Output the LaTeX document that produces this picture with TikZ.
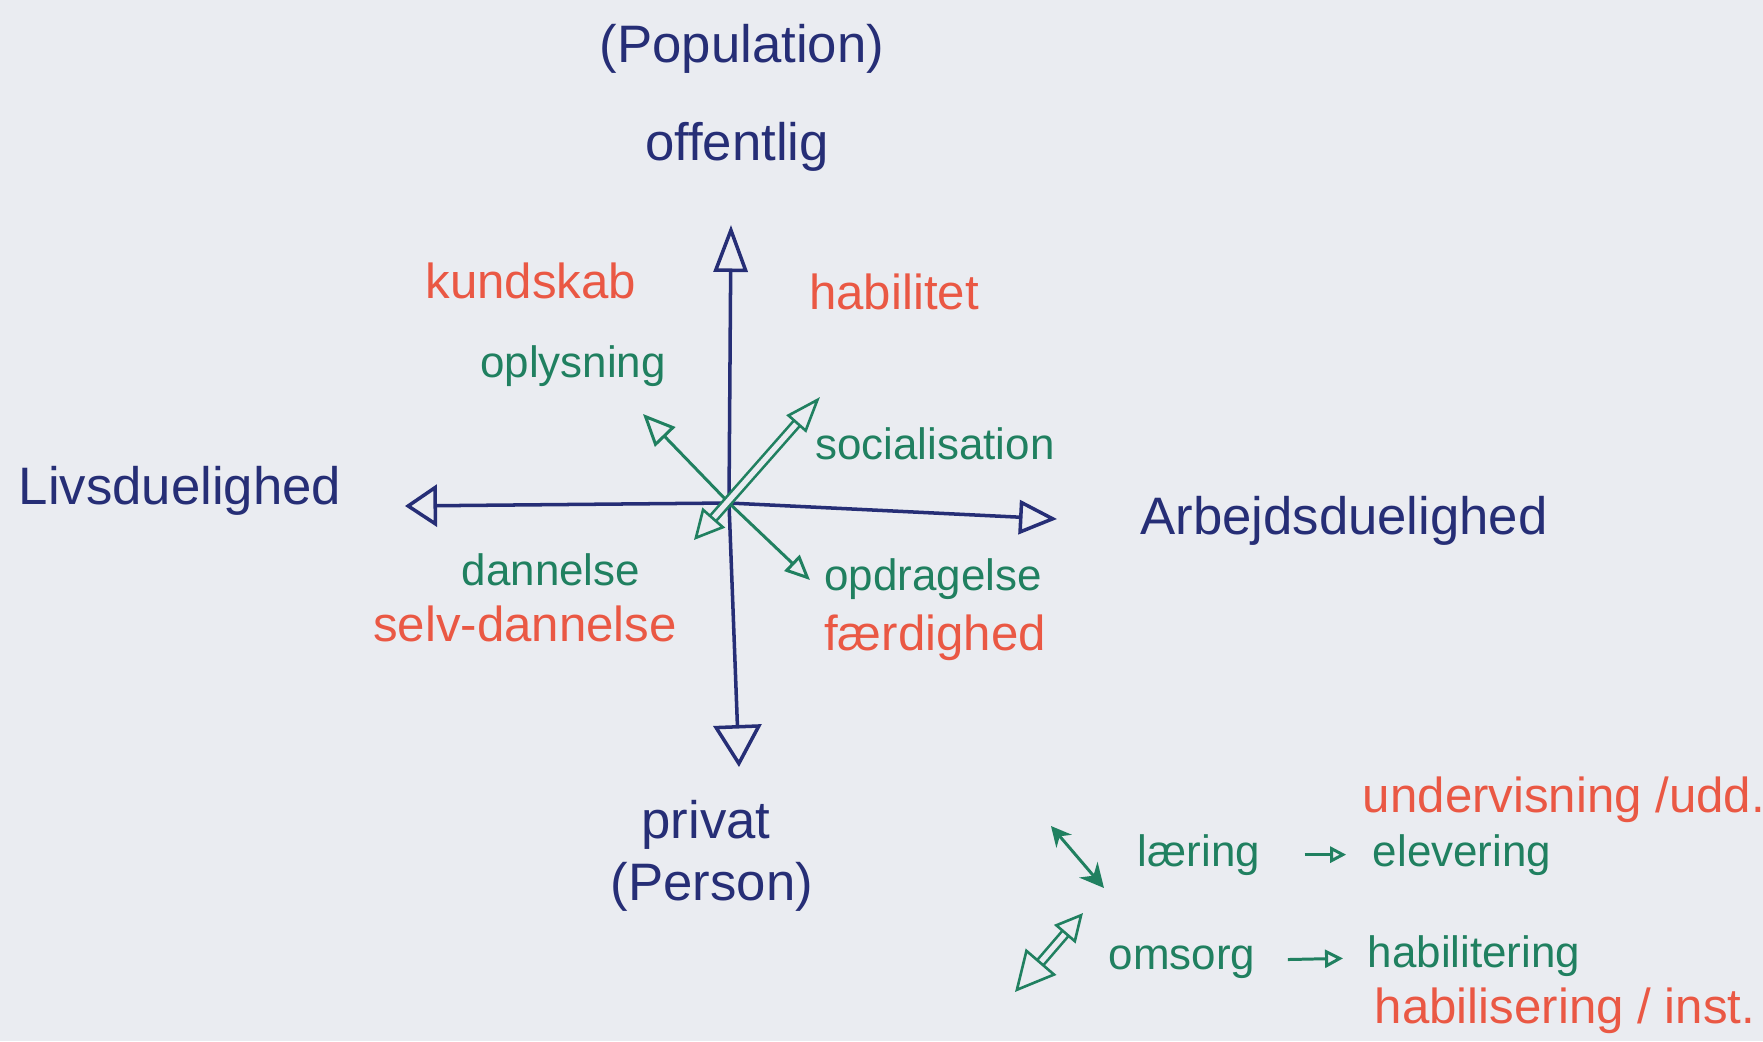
\documentclass[tikz,border=0pt]{standalone}
\usepackage{fontspec}
\setmainfont{Liberation Sans}
\usetikzlibrary{arrows.meta}
\definecolor{ink}{RGB}{38,46,118}
\definecolor{pen}{RGB}{32,128,96}
\definecolor{marker}{RGB}{234,88,68}
\definecolor{paper}{RGB}{234,236,241}

\begin{document}
\begin{tikzpicture}[
                    % GLOBAL CFG
                    >=LaTeX,
                    % Styles
                    axislabel/.style={% For the blue words at the ends of the axes
                            text=ink,
                            inner sep=0pt,
                            anchor=base,
                            font=\fontsize{15}{18}\selectfont
                        },
                    redlabel/.style={% For the red words
                            text=marker,
                            inner sep=0pt,
                            anchor=base,
                            font=\fontsize{14}{17}\selectfont
                        },
                    greenlabel/.style={% For the green words
                            text=pen,
                            inner sep=0pt,
                            anchor=base,
                            font=\fontsize{12.5}{15}\selectfont
                        },
                    ArrowAxis/.style={% The blue axes
                            ink,
                            line width=1pt,
                        },
                    ArrowGreen/.style={% The green arrows
                            pen,
                            line width=0.85pt,
                        },
                    ArrowDouble/.style={% Green arrows with a double line
                            pen,
                            line width=0.75pt,
                            double=paper,
                            double distance=1.5pt,
                        },
                ]

                % Paper
                \fill[paper] (-7.29,-5.38) rectangle (10.34,5.03);
                \useasboundingbox (-7.29,-5.38) rectangle (10.34,5.03);

                % Axis ends named ax-#
                \coordinate (o) at (0,0);
                \coordinate (ax-n) at (0.02,2.78);
                \coordinate (ax-s) at (0.10,-2.64);
                \coordinate (ax-w) at (-3.24,-0.03);
                \coordinate (ax-e) at (3.28,-0.16);

                % Draw the axes
                \draw [ArrowAxis, -{Triangle[open, length=4.7mm, width=3.4mm]}] (o) -- (ax-n);
                \draw [ArrowAxis, -{Triangle[open, length=4.2mm, width=4.8mm]}] (o) -- (ax-s);
                \draw [ArrowAxis, -{Triangle[open, length=3.2mm, width=4.2mm]}] (o) -- (ax-w);
                \draw [ArrowAxis, -{Triangle[open, length=3.8mm, width=3.4mm]}] (o) -- (ax-e);

                % Words at the axes
                \node[axislabel] (pop) at (0.13,4.41) {(Population)};
                \node[axislabel] (off) at (0.08,3.43) {offentlig};
                \node[axislabel] (priv) at (-0.23,-3.35) {privat};
                \node[axislabel] (pers) at (-0.17,-3.97) {(Person)};
                \node[axislabel] (livs) at (-5.49,-0.01) {Livsduelighed};
                \node[axislabel] (arb) at (6.15,-0.31) {Arbejdsduelighed};

                % Green arrows from the middle
                \coordinate (opl) at (-0.86,0.89);
                \coordinate (opd) at (0.81,-0.77);
                \coordinate (soc1) at (0.91,1.06);
                \coordinate (soc2) at (-0.35,-0.37);
                \draw [ArrowGreen, -{Triangle[open, length=3.2mm, width=2.8mm]}] (o) -- (opl);
                \draw [ArrowGreen, -{Triangle[open, length=2.5mm, width=2.2mm]}] (o) -- (opd);
                \draw [ArrowDouble, {Triangle[open, length=3mm, width=3mm]}-{Triangle[open, length=3.6mm, width=2.6mm]}] (soc2) -- (soc1);

                % Quadrants
                \node[redlabel] (kund) at (-1.98,2.05) {kundskab};
                \node[redlabel] (habt) at (1.65,1.94) {habilitet};
                \node[greenlabel] (oply) at (-1.56,1.26) {oplysning};
                \node[greenlabel] (soci) at (2.06,0.44) {socialisation};
                \node[greenlabel] (dann) at (-1.78,-0.82) {dannelse};
                \node[redlabel] (selv) at (-2.04,-1.38) {selv-dannelse};
                \node[greenlabel] (opdr) at (2.04,-0.87) {opdragelse};
                \node[redlabel] (faer) at (2.06,-1.47) {færdighed};

                % Legend
                \coordinate (l1) at (3.22,-3.23);
                \coordinate (l2) at (3.75,-3.85);
                \draw [ArrowGreen, {Stealth[length=2mm, width=2mm]}-{Stealth[length=2.4mm, width=2.4mm]}] (l1) -- (l2);
                \coordinate (m1) at (2.86,-4.89);
                \coordinate (m2) at (3.54,-4.10);
                \draw [ArrowDouble, {Triangle[open, length=4mm, width=4mm]}-{Triangle[open, length=2.8mm, width=2.8mm]}] (m1) -- (m2);

                \node[redlabel] (udd) at (8.35,-3.09) {undervisning /udd.};
                \node[greenlabel] (laer) at (4.70,-3.63) {læring};
                \node[greenlabel] (elev) at (7.33,-3.63) {elevering};
                \node[greenlabel] (oms) at (4.53,-4.66) {omsorg};
                \node[greenlabel] (habl) at (7.45,-4.64) {habilitering};
                \node[redlabel] (habs) at (8.36,-5.20) {habilisering / inst.};

                \draw [ArrowGreen, -{Triangle[open, length=1.6mm, width=1.6mm]}, shorten <=0.44cm, shorten >=0.26cm] (laer) -- (elev);
                \draw [ArrowGreen, -{Triangle[open, length=1.8mm, width=1.8mm]}, shorten <=0.32cm, shorten >=0.24cm] (oms) -- (habl);

            \end{tikzpicture}
\end{document}
